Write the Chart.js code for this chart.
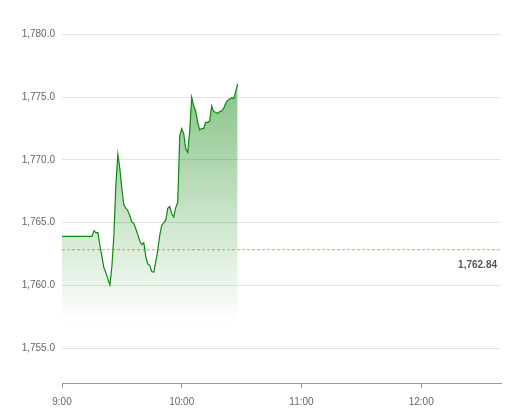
<!DOCTYPE html>
<html>
<head>
<meta charset="utf-8">
<script src="https://cdn.jsdelivr.net/npm/chart.js@4/dist/chart.umd.min.js"></script>
<style>
html,body{margin:0;padding:0;background:#fff;}
#wrap{width:509px;height:414px;}
</style>
</head>
<body>
<div id="wrap"><canvas id="c" width="509" height="414"></canvas></div>
<script>
const times = [
 "9:00","9:01","9:02","9:03","9:04","9:05","9:06","9:07","9:08","9:09",
 "9:10","9:11","9:12","9:13","9:14","9:15","9:16","9:17","9:18","9:19",
 "9:20","9:21","9:22","9:23","9:24","9:25","9:26","9:27","9:28","9:29",
 "9:30","9:31","9:32","9:33","9:34","9:35","9:36","9:37","9:38","9:39",
 "9:40","9:41","9:42","9:43","9:44","9:45","9:46","9:47","9:48","9:49",
 "9:50","9:51","9:52","9:53","9:54","9:55","9:56","9:57","9:58","9:59",
 "10:00","10:01","10:02","10:03","10:04","10:05","10:06","10:07","10:08","10:09",
 "10:10","10:11","10:12","10:13","10:14","10:15","10:16","10:17","10:18","10:19",
 "10:20","10:21","10:22","10:23","10:24","10:25","10:26","10:27","10:28"
];
const prices = [
 1763.9,1763.9,1763.9,1763.9,1763.9,1763.9,1763.9,1763.9,1763.9,1763.9,
 1763.9,1763.9,1763.9,1763.9,1763.9,1763.9,1764.35,1764.2,1764.2,1763.2,
 1762.3,1761.4,1761.0,1760.5,1760.05,1761.5,1764.0,1768.0,1770.45,1769.3,
 1767.7,1766.4,1766.15,1765.95,1765.55,1765.05,1764.95,1764.5,1764.05,1763.5,
 1763.25,1763.4,1762.3,1761.7,1761.6,1761.1,1761.05,1761.9,1762.8,1764.0,
 1764.8,1765.0,1765.2,1766.15,1766.3,1765.7,1765.45,1766.2,1766.6,1771.9,
 1772.5,1772.1,1770.9,1770.6,1772.3,1775.0,1774.3,1773.9,1773.0,1772.4,
 1772.5,1772.5,1773.0,1773.0,1773.1,1774.3,1773.85,1773.8,1773.7,1773.85,
 1773.9,1774.1,1774.5,1774.75,1774.85,1774.95,1774.9,1775.4,1776.05
];
const previousClose = 1762.84;
const xTickLabels = ["9:00","10:00","11:00","12:00"];
const yTickValues = [1755,1760,1765,1770,1775,1780];
const sessionStart = "9:00";
const sessionEnd = "12:40";
const yMin = 1752.22, yMax = 1781.71, fillBase = 1757.0;

function toMin(t){const p=t.split(":");return (+p[0])*60+(+p[1]);}
const t0 = toMin(sessionStart);
const pts = times.map((t,i)=>({x:toMin(t)-t0,y:prices[i]}));
const fmtY = new Intl.NumberFormat('en-US',{minimumFractionDigits:1,maximumFractionDigits:1});
const fmtP = new Intl.NumberFormat('en-US',{minimumFractionDigits:2,maximumFractionDigits:2});
const FONT = "'Liberation Sans', Arial, Helvetica, sans-serif";

const closeLabel = {
  id:'closeLabel',
  afterDatasetsDraw(chart){
    const ctx=chart.ctx, y=chart.scales.y.getPixelForValue(previousClose);
    ctx.save();
    ctx.font="bold 10px "+FONT;
    ctx.fillStyle="#555";
    ctx.textAlign="right";
    ctx.textBaseline="middle";
    ctx.fillText(fmtP.format(previousClose), chart.chartArea.right-4, y+15.5);
    ctx.restore();
  }
};

new Chart(document.getElementById('c'),{
  type:'line',
  data:{datasets:[
    {
      data:pts,
      borderColor:'#0a8a0a',
      borderWidth:1.2,
      pointRadius:0,
      tension:0,
      fill:{value:fillBase},
      backgroundColor(ctx){
        const ch=ctx.chart, a=ch.chartArea;
        if(!a) return 'rgba(0,128,0,0.2)';
        const ys=ch.scales.y;
        const top=ys.getPixelForValue(Math.max(...prices));
        const bot=ys.getPixelForValue(fillBase);
        const g=ch.ctx.createLinearGradient(0,top,0,bot);
        g.addColorStop(0,'rgba(0,128,0,0.47)');
        g.addColorStop(1,'rgba(0,128,0,0.0)');
        return g;
      },
      order:1
    },
    {
      data:[{x:0,y:previousClose},{x:toMin(sessionEnd)-t0,y:previousClose}],
      borderColor:'#f0a030',
      borderWidth:1,
      borderDash:[3,2],
      pointRadius:0,
      fill:false,
      order:2
    }
  ]},
  options:{
    responsive:false,
    animation:false,
    events:[],
    layout:{padding:{top:8,right:8,left:0,bottom:0}},
    plugins:{legend:{display:false},tooltip:{enabled:false}},
    scales:{
      x:{
        type:'linear',
        min:0,max:toMin(sessionEnd)-t0,
        afterBuildTicks(s){s.ticks=xTickLabels.map(t=>({value:toMin(t)-t0}));},
        afterFit(s){s.height=31;},
        grid:{drawOnChartArea:false,drawTicks:true,tickLength:5,color:'#999'},
        border:{display:true,color:'#999',width:1},
        ticks:{
          color:'#666',font:{family:FONT,size:10},padding:8,maxRotation:0,autoSkip:false,
          callback(v){const m=v+t0;return Math.floor(m/60)+":"+String(m%60).padStart(2,'0');}
        }
      },
      y:{
        min:yMin,max:yMax,
        afterBuildTicks(s){s.ticks=yTickValues.map(v=>({value:v}));},
        afterFit(s){s.width=62;},
        grid:{drawTicks:false,color:'#e2e2e2',lineWidth:1},
        border:{display:false},
        ticks:{color:'#666',font:{family:FONT,size:10},padding:7,callback(v){return fmtY.format(v);}}
      }
    }
  },
  plugins:[closeLabel]
});
</script>
</body>
</html>
